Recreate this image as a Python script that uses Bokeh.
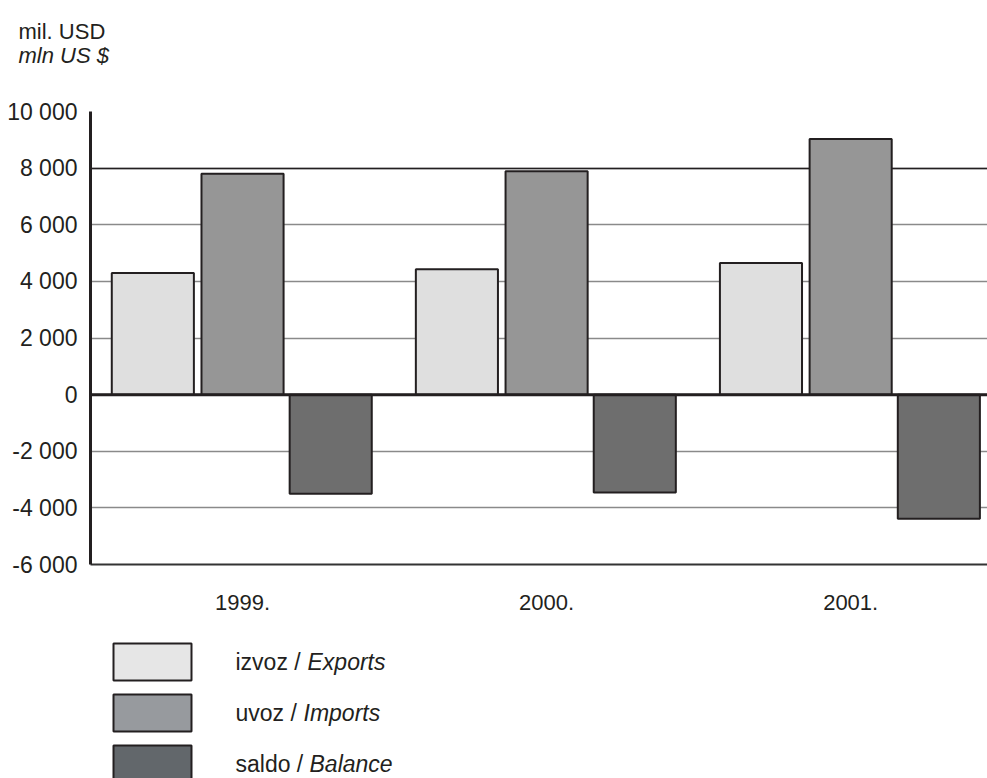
from bokeh.plotting import figure
from bokeh.models import Range1d, FixedTicker, Grid, Span, Title
from bokeh.layouts import column
from bokeh.embed import file_html
from bokeh.resources import INLINE
from bokeh.core.properties import value

# ---------------- data ----------------
years = ["1999.", "2000.", "2001."]
exports = [4300, 4430, 4650]
imports = [7800, 7890, 9030]
balance = [-3500, -3460, -4380]

series_hr = ["izvoz", "uvoz", "saldo"]
series_en = ["Exports", "Imports", "Balance"]

y_ticks = [-6000, -4000, -2000, 0, 2000, 4000, 6000, 8000, 10000]
y_tick_labels = ["-6 000", "-4 000", "-2 000", "0", "2 000", "4 000", "6 000", "8 000", "10 000"]

unit_hr = "mil. USD"
unit_en = "mln US $"

# ---------------- styles ----------------
FONT = "'Liberation Sans', Arial, sans-serif"
INK = "#231f20"
bar_colors = ["#dfdfdf", "#969696", "#6e6e6e"]
legend_colors = ["#e6e6e6", "#979a9e", "#62676b"]
offsets = [-0.295, 0.0, 0.29]
bar_w = 0.27
italic_offsets = [72, 68, 74]

idx = list(range(len(years)))

p = figure(width=987, height=630, x_range=Range1d(-0.5, 2.45), y_range=Range1d(-6000, 10000),
           output_backend="svg", toolbar_location=None, title=None,
           min_border_left=90, min_border_right=0, min_border_top=111, min_border_bottom=66)
p.outline_line_color = None
p.background_fill_color = "white"

# grid
p.xgrid.visible = False
p.ygrid.ticker = FixedTicker(ticks=y_ticks)
p.ygrid.grid_line_color = "#8a8a8a"
p.ygrid.grid_line_width = 1.5
p.add_layout(Grid(dimension=1, ticker=FixedTicker(ticks=[8000]), grid_line_color=INK, grid_line_width=1.3))
p.add_layout(Grid(dimension=1, ticker=FixedTicker(ticks=[10000]), grid_line_color="#555555", grid_line_width=1.5))

# bars
for vals, off, col in zip([exports, imports, balance], offsets, bar_colors):
    p.vbar(x=[i + off for i in idx], top=vals, bottom=0, width=bar_w,
           fill_color=col, line_color=INK, line_width=2)

p.add_layout(Span(location=0, dimension="width", line_color=INK, line_width=3))

# axes
ya = p.yaxis[0]
ya.ticker = FixedTicker(ticks=y_ticks)
ya.major_label_overrides = dict(zip(y_ticks, y_tick_labels))
ya.major_tick_line_color = None
ya.minor_tick_line_color = None
ya.major_tick_out = 0
ya.axis_line_color = INK
ya.axis_line_width = 3
ya.major_label_standoff = 13
ya.major_label_text_font = FONT
ya.major_label_text_font_size = "23px"
ya.major_label_text_color = INK

xa = p.xaxis[0]
xa.ticker = FixedTicker(ticks=idx)
xa.major_label_overrides = {i: y for i, y in zip(idx, years)}
xa.major_tick_line_color = None
xa.minor_tick_line_color = None
xa.major_tick_out = 0
xa.axis_line_color = "#333333"
xa.axis_line_width = 2
xa.major_label_standoff = 30
xa.major_label_text_font = FONT
xa.major_label_text_font_size = "22px"
xa.major_label_text_color = INK

# unit titles: an invisible spacer first (closest to frame), then the two lines
p.add_layout(Title(text="\u00a0", text_font=FONT, text_font_size="10px", text_color="white",
                   standoff=31), "above")
p.add_layout(Title(text=unit_en, text_font=FONT, text_font_style="italic", text_font_size="22px",
                   text_color=INK, align="left", offset=-72, standoff=0), "above")
p.add_layout(Title(text=unit_hr, text_font=FONT, text_font_style="normal", text_font_size="22px",
                   text_color=INK, align="left", offset=-72, standoff=-7), "above")

# legend figure (frame aligned with the main frame: x in px from frame left)
leg = figure(width=987, height=148, x_range=Range1d(0, 897), y_range=Range1d(2.284, -0.618),
             output_backend="svg", toolbar_location=None, min_border=0,
             x_axis_type=None, y_axis_type=None)
leg.outline_line_color = None
leg.grid.visible = False
leg.rect(x=62, y=idx, width=78, height=37, width_units="screen", height_units="screen",
         fill_color=legend_colors, line_color=INK, line_width=2)
leg.text(x=145, y=idx, text=[h + " /" for h in series_hr], text_baseline="middle",
         text_font=value(FONT), text_font_size="23px", text_color=INK)
leg.text(x=145, y=idx, x_offset=italic_offsets, text=series_en, text_baseline="middle",
         text_font=value(FONT), text_font_style="italic", text_font_size="23px", text_color=INK)

layout = column(p, leg)
open("out.html", "w").write(file_html(layout, INLINE))
